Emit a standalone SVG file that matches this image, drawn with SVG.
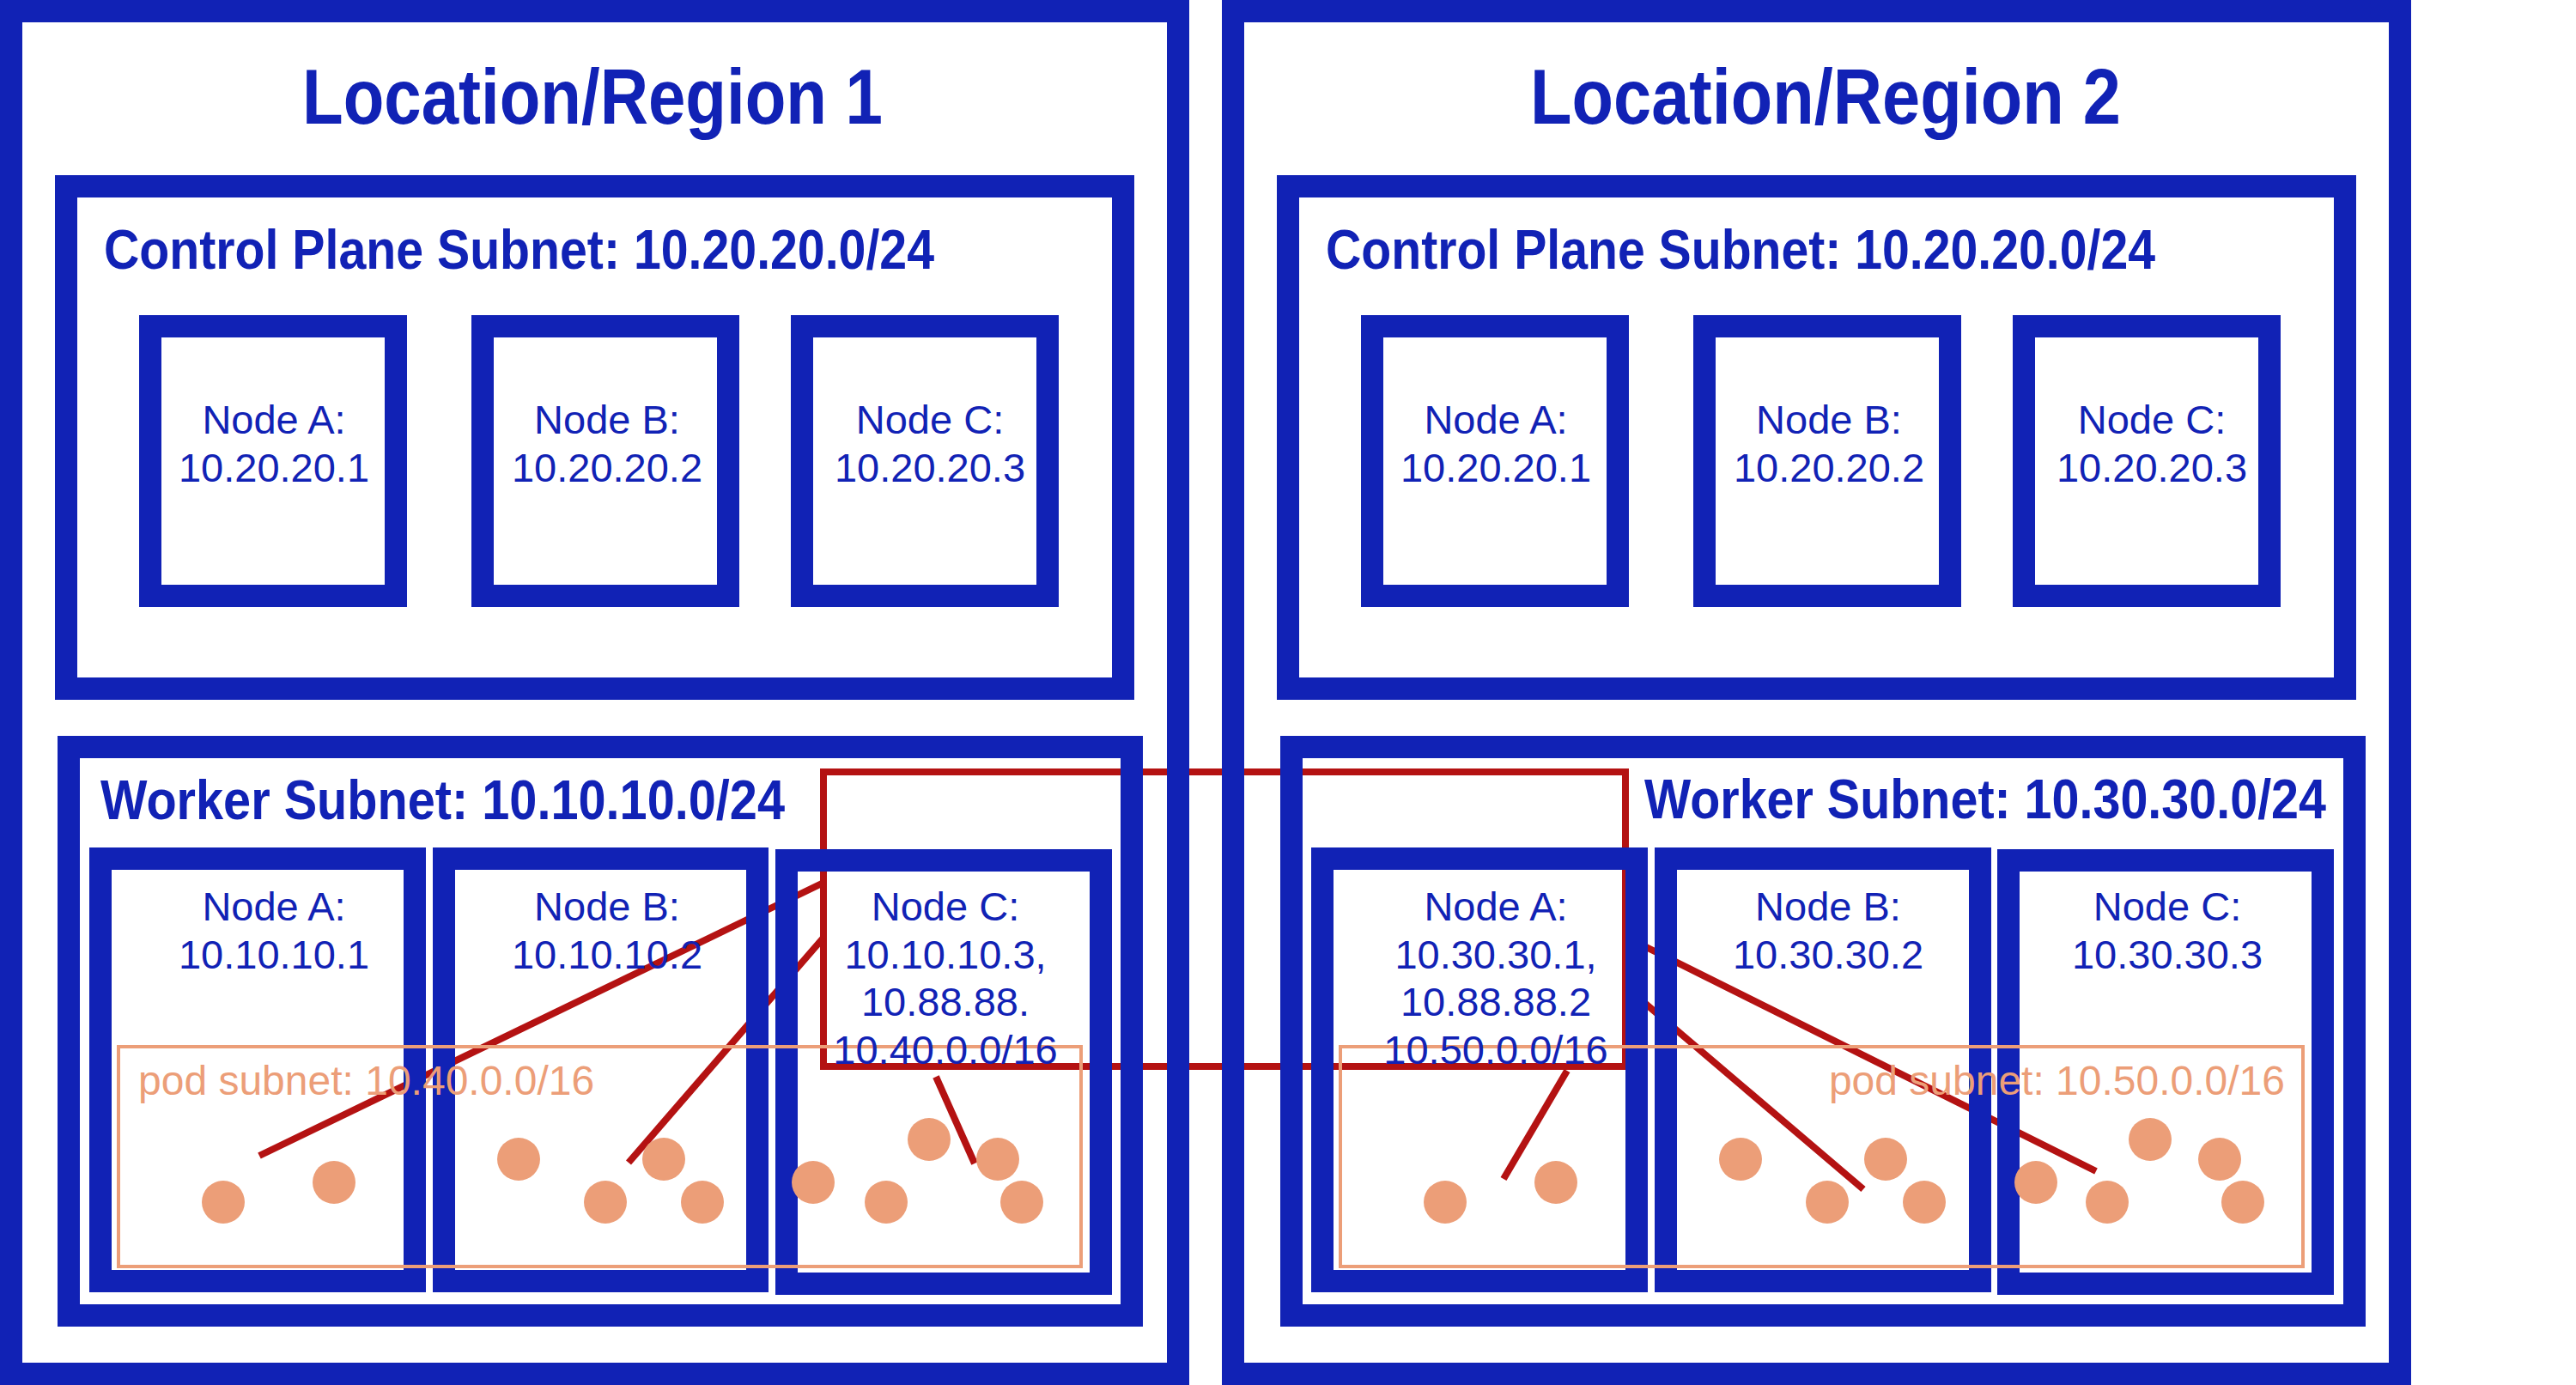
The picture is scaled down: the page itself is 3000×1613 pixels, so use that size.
<svg xmlns="http://www.w3.org/2000/svg" width="3000" height="1613" viewBox="0 0 3000 1613">
<style>
.box{fill:none;stroke:#1122b5;stroke-width:26}
.pod{fill:none;stroke:#ec9e78;stroke-width:4}
.dot{fill:#ec9e78}
.red{fill:none;stroke:#b41212;stroke-width:8}
.t{font-family:"Liberation Sans",Arial,sans-serif;font-size:47px;fill:#1122b5;text-anchor:middle}
.b{font-family:"Liberation Sans",Arial,sans-serif;font-weight:bold;fill:#1122b5}
.pl{font-family:"Liberation Sans",Arial,sans-serif;font-size:48px;fill:#ec9e78}
</style>
<rect width="3000" height="1613" fill="#ffffff"/>
<g id="connectors">
<rect class="red" x="959" y="899" width="934" height="343"/>
<line class="red" x1="959" y1="1028" x2="302" y2="1346"/>
<line class="red" x1="959" y1="1092" x2="732" y2="1354"/>
<line class="red" x1="1090" y1="1254" x2="1135" y2="1355"/>
<line class="red" x1="1825" y1="1247" x2="1751" y2="1373"/>
<line class="red" x1="1893" y1="1149" x2="2170" y2="1385"/>
<line class="red" x1="1893" y1="1091" x2="2441" y2="1364"/>
</g>
<g id="region1">
<rect class="box" x="13" y="13" width="1359" height="1587"/>
<text class="b" x="352" y="144" font-size="91" textLength="676" lengthAdjust="spacingAndGlyphs">Location/Region 1</text>
</g>
<g id="region2">
<rect class="box" x="1436" y="13" width="1359" height="1587"/>
<text class="b" x="1782" y="144" font-size="91" textLength="688" lengthAdjust="spacingAndGlyphs">Location/Region 2</text>
</g>
<g id="cp-subnet-1">
<rect class="box" x="77" y="217" width="1231" height="585"/>
<text class="b" x="121" y="313" font-size="64" textLength="967" lengthAdjust="spacingAndGlyphs">Control Plane Subnet: 10.20.20.0/24</text>
</g>
<g id="cp-subnet-2">
<rect class="box" x="1500" y="217" width="1231" height="585"/>
<text class="b" x="1544" y="313" font-size="64" textLength="966" lengthAdjust="spacingAndGlyphs">Control Plane Subnet: 10.20.20.0/24</text>
</g>
<g id="cp1-node-a"><rect class="box" x="175" y="380" width="286" height="314"/><text class="t" x="319" y="505">Node A:</text><text class="t" x="319" y="561">10.20.20.1</text></g>
<g id="cp1-node-b"><rect class="box" x="562" y="380" width="286" height="314"/><text class="t" x="707" y="505">Node B:</text><text class="t" x="707" y="561">10.20.20.2</text></g>
<g id="cp1-node-c"><rect class="box" x="934" y="380" width="286" height="314"/><text class="t" x="1083" y="505">Node C:</text><text class="t" x="1083" y="561">10.20.20.3</text></g>
<g id="cp2-node-a"><rect class="box" x="1598" y="380" width="286" height="314"/><text class="t" x="1742" y="505">Node A:</text><text class="t" x="1742" y="561">10.20.20.1</text></g>
<g id="cp2-node-b"><rect class="box" x="1985" y="380" width="286" height="314"/><text class="t" x="2130" y="505">Node B:</text><text class="t" x="2130" y="561">10.20.20.2</text></g>
<g id="cp2-node-c"><rect class="box" x="2357" y="380" width="286" height="314"/><text class="t" x="2506" y="505">Node C:</text><text class="t" x="2506" y="561">10.20.20.3</text></g>
<g id="worker-subnet-1">
<rect class="box" x="80" y="870" width="1238" height="662"/>
<text class="b" x="117" y="954" font-size="64" textLength="797" lengthAdjust="spacingAndGlyphs">Worker Subnet: 10.10.10.0/24</text>
</g>
<g id="worker-subnet-2">
<rect class="box" x="1504" y="870" width="1238" height="662"/>
<text class="b" x="1915" y="953" font-size="64" textLength="794" lengthAdjust="spacingAndGlyphs">Worker Subnet: 10.30.30.0/24</text>
</g>
<g id="w1-node-a-box"><rect class="box" x="117" y="1000" width="366" height="492"/></g>
<g id="w1-node-b-box"><rect class="box" x="517" y="1000" width="365" height="492"/></g>
<g id="w1-node-c-box"><rect class="box" x="916" y="1002" width="366" height="493"/></g>
<g id="w2-node-a-box"><rect class="box" x="1540" y="1000" width="366" height="492"/></g>
<g id="w2-node-b-box"><rect class="box" x="1940" y="1000" width="366" height="492"/></g>
<g id="w2-node-c-box"><rect class="box" x="2339" y="1002" width="366" height="493"/></g>
<g id="pod-subnet-1">
<rect class="pod" x="138" y="1219" width="1121" height="256"/>
<text class="pl" x="161" y="1275">pod subnet: 10.40.0.0/16</text>
</g>
<g id="pod-subnet-2">
<rect class="pod" x="1561" y="1219" width="1121" height="256"/>
<text class="pl" x="2661" y="1275" text-anchor="end">pod subnet: 10.50.0.0/16</text>
</g>
<g id="pods-1">
<circle class="dot" cx="260" cy="1400" r="25"/>
<circle class="dot" cx="389" cy="1377" r="25"/>
<circle class="dot" cx="604" cy="1350" r="25"/>
<circle class="dot" cx="773" cy="1350" r="25"/>
<circle class="dot" cx="705" cy="1400" r="25"/>
<circle class="dot" cx="818" cy="1400" r="25"/>
<circle class="dot" cx="947" cy="1377" r="25"/>
<circle class="dot" cx="1032" cy="1400" r="25"/>
<circle class="dot" cx="1082" cy="1327" r="25"/>
<circle class="dot" cx="1162" cy="1350" r="25"/>
<circle class="dot" cx="1190" cy="1400" r="25"/>
</g>
<g id="pods-2">
<circle class="dot" cx="1683" cy="1400" r="25"/>
<circle class="dot" cx="1812" cy="1377" r="25"/>
<circle class="dot" cx="2027" cy="1350" r="25"/>
<circle class="dot" cx="2196" cy="1350" r="25"/>
<circle class="dot" cx="2128" cy="1400" r="25"/>
<circle class="dot" cx="2241" cy="1400" r="25"/>
<circle class="dot" cx="2371" cy="1377" r="25"/>
<circle class="dot" cx="2454" cy="1400" r="25"/>
<circle class="dot" cx="2504" cy="1327" r="25"/>
<circle class="dot" cx="2585" cy="1350" r="25"/>
<circle class="dot" cx="2612" cy="1400" r="25"/>
</g>
<g id="w1-node-a"><text class="t" x="319" y="1072">Node A:</text><text class="t" x="319" y="1128">10.10.10.1</text></g>
<g id="w1-node-b"><text class="t" x="707" y="1072">Node B:</text><text class="t" x="707" y="1128">10.10.10.2</text></g>
<g id="w1-node-c"><text class="t" x="1101" y="1072">Node C:</text><text class="t" x="1101" y="1128">10.10.10.3,</text><text class="t" x="1101" y="1183">10.88.88.</text><text class="t" x="1101" y="1239">10.40.0.0/16</text></g>
<g id="w2-node-a"><text class="t" x="1742" y="1072">Node A:</text><text class="t" x="1742" y="1128">10.30.30.1,</text><text class="t" x="1742" y="1183">10.88.88.2</text><text class="t" x="1742" y="1239">10.50.0.0/16</text></g>
<g id="w2-node-b"><text class="t" x="2129" y="1072">Node B:</text><text class="t" x="2129" y="1128">10.30.30.2</text></g>
<g id="w2-node-c"><text class="t" x="2524" y="1072">Node C:</text><text class="t" x="2524" y="1128">10.30.30.3</text></g>
</svg>
